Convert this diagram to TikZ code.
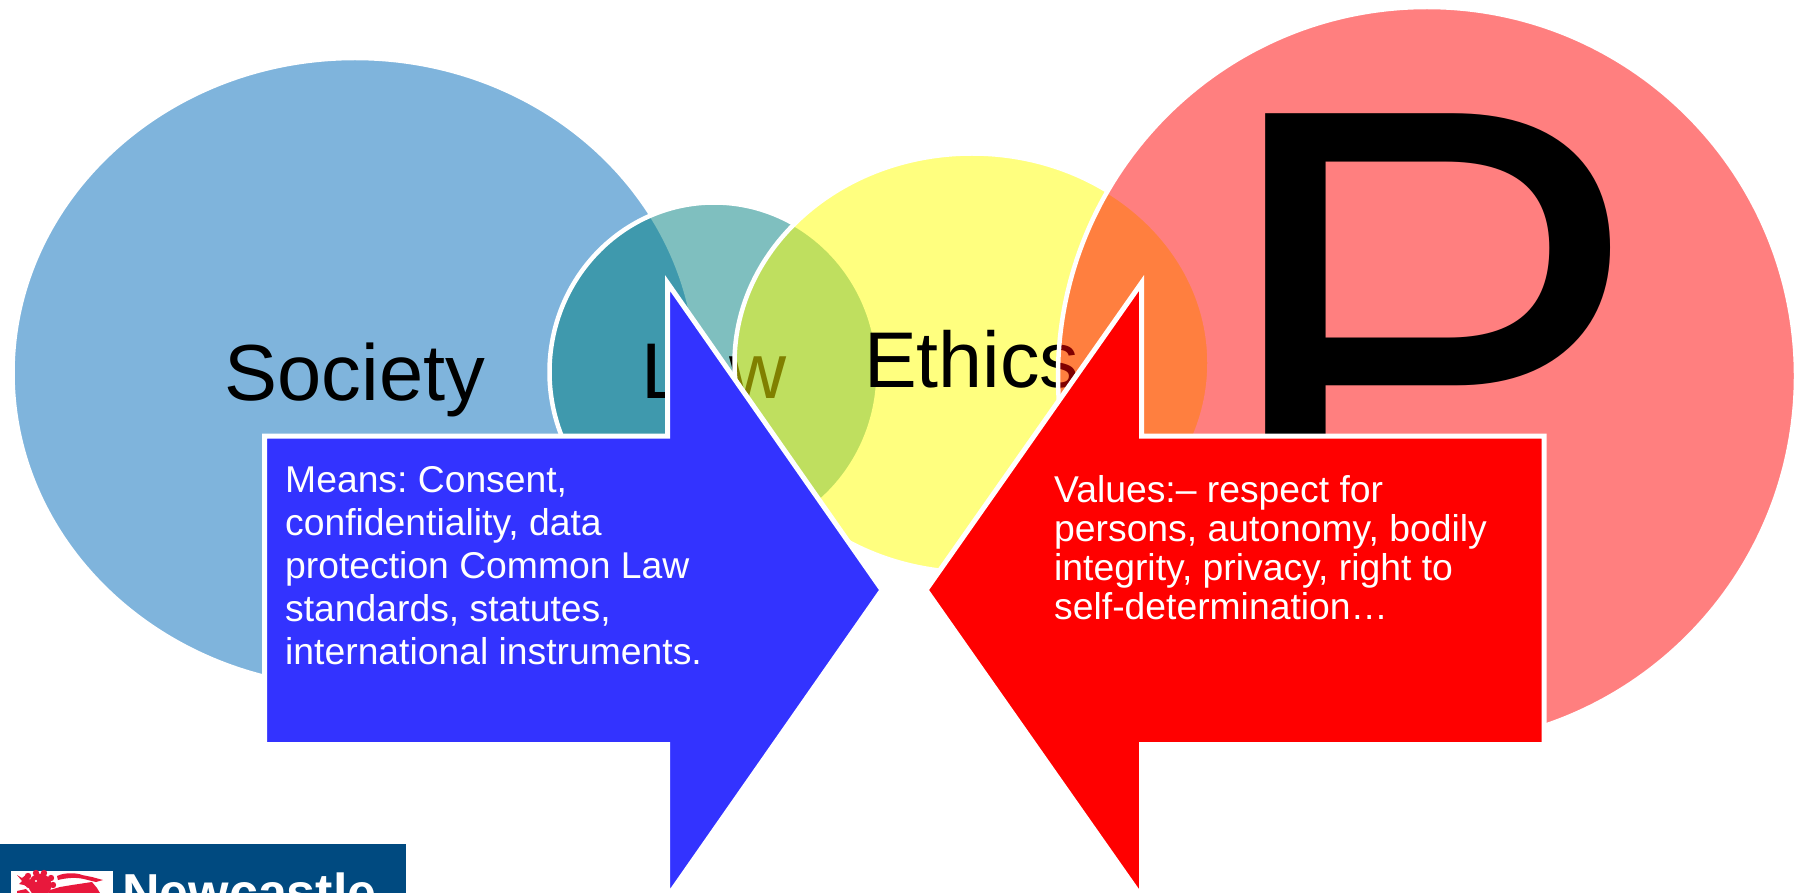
\documentclass[tikz,border=0pt]{standalone}
\usepackage{fontspec}
\setmainfont{Liberation Sans}
\usetikzlibrary{shapes.geometric}
\tikzset{
  x=1pt,y=-1pt,
  blob/.style={ellipse,inner sep=0pt,draw=white,line width=4.5pt,fill opacity=.5},
  bigtext/.style={anchor=base,inner sep=0pt,font=\fontsize{79}{90}\selectfont,text=black},
  arrowshape/.style={draw=white,line width=5pt,miter limit=20},
  bodytext/.style={anchor=north west,inner sep=0pt,align=left,text=white},
}
\definecolor{socblue}{HTML}{006BBB}
\definecolor{lawteal}{HTML}{008080}
\definecolor{ethyellow}{HTML}{FFFF00}
\definecolor{means}{HTML}{3333FF}
\definecolor{uni}{HTML}{004A80}
\definecolor{lion}{HTML}{E8183C}
\begin{document}
\frenchspacing
\begin{tikzpicture}
\useasboundingbox (0,0) rectangle (1797,893);
\clip (0,0) rectangle (1797,893);
\fill[white] (0,0) rectangle (1797,893);
% circles, each with its text
\node[blob,fill=socblue,minimum width=685pt,minimum height=630pt] (society) at (355,373) {};
\node[bigtext,font=\fontsize{79.5}{90}\selectfont] (societyt) at (355,400) {Society};
\node[blob,fill=lawteal,minimum width=329pt,minimum height=339pt] (law) at (714,372) {};
\node[bigtext] (lawt) at (714,399) {Law};
\node[blob,fill=ethyellow,minimum width=475pt,minimum height=419pt] (ethics) at (972,363) {};
\node[bigtext,anchor=base west] (ethicst) at (864,388) {Ethics};
\node[blob,fill=red,minimum width=738pt,minimum height=738pt] (pcirc) at (1427,376) {};
\node[anchor=base west,inner sep=0pt,font=\fontsize{648}{700}\selectfont,text=black] (pt) at (1212,559) {P};
% arrows
\draw[arrowshape,fill=means] (264.5,436) -- (667.5,436) -- (667.5,283) -- (882,590) -- (667.5,897) -- (667.5,744.5) -- (264.5,744.5) -- cycle;
\draw[arrowshape,fill=red] (1544,436) -- (1141.5,436) -- (1141.5,283) -- (926,590) -- (1141.5,897) -- (1141.5,744.5) -- (1544,744.5) -- cycle;
\node[bodytext,font=\fontsize{37.3}{43.1}\selectfont] (meanst) at (285,466) {Means: Consent,\\confidentiality, data\\protection Common Law\\standards, statutes,\\international instruments.};
\node[bodytext,font=\fontsize{37.3}{39}\selectfont] (valuest) at (1054,475) {Values:– respect for\\persons, autonomy, bodily\\integrity, privacy, right to\\self-determination…};
% logo
\fill[uni] (0,844) rectangle (406,893);
\fill[white] (11,871) rectangle (113,893);
% lion
\fill[lion] (40,885) circle (11.5);
\foreach \a/\b in {28/876,36/873,44/873,51/878,53/885,29/885}{\fill[lion] (\a,\b) circle (3.2);}
\fill[lion] (17,875) -- (22,878) -- (27,874) -- (31,882) -- (29,888) -- (24,885) -- (19,884) -- (22,881) -- cycle;
\fill[lion] (17,891) -- (26,889) -- (30,893) -- (17,893) -- cycle;
\fill[lion] (50,890) -- (60,887) -- (72,885) -- (92,882) -- (97,888) -- (100,893) -- (48,893) -- cycle;
\fill[lion] (57,876) .. controls (65,872) and (78,873) .. (82,875) -- (92,877) -- (103,880) -- (96,882) -- (84,879) .. controls (75,877) and (66,878) .. (58,880) -- cycle;
\fill[white] (36,881) circle (1.2);
\node[anchor=base west,inner sep=0pt,font=\fontsize{52}{60}\selectfont\bfseries,text=white] (uni) at (122,910) {Newcastle};
\end{tikzpicture}
\end{document}
